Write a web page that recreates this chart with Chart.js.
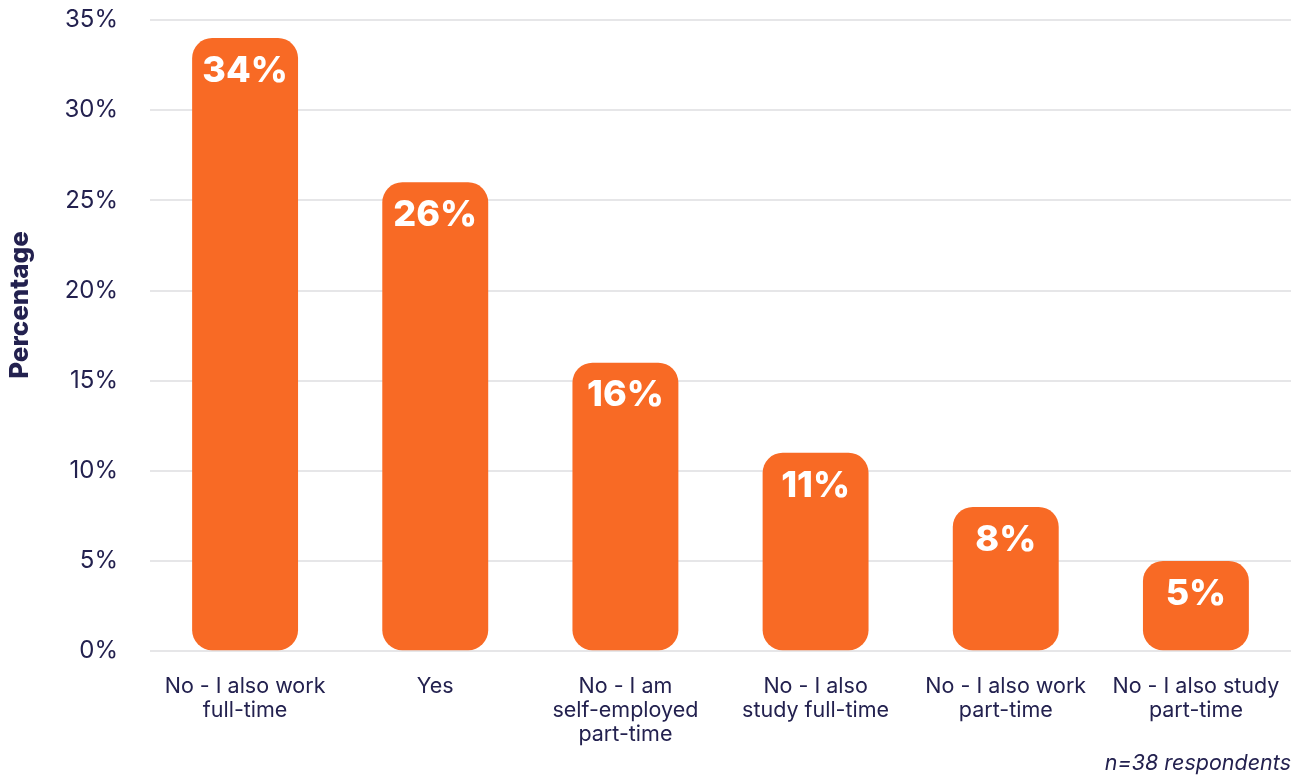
<!DOCTYPE html>
<html>
<head>
<meta charset="utf-8">
<script src="https://cdn.jsdelivr.net/npm/chart.js@4/dist/chart.umd.min.js"></script>
<style>
  html, body { margin: 0; padding: 0; background: #fff; }
  #wrap { width: 1304px; height: 776px; }
</style>
</head>
<body>
<div id="wrap"><canvas id="workChart" width="1304" height="776"></canvas></div>
<script>
// categories (multi-line labels) and their percentages
var categories = [
  ["No - I also work", "full-time"],
  ["Yes"],
  ["No - I am", "self-employed", "part-time"],
  ["No - I also", "study full-time"],
  ["No - I also work", "part-time"],
  ["No - I also study", "part-time"]
];
var percentages = [34, 26, 16, 11, 8, 5];
var yTicks = [0, 5, 10, 15, 20, 25, 30, 35];
var yTitle = "Percentage";
var footnote = "n=38 respondents";

var navy = "#23214f";
var orange = "#f86a25";
var fontFamily = "Inter, 'Open Sans', sans-serif";

// white value labels just inside the top of each bar
var barLabels = {
  id: 'barLabels',
  afterDatasetsDraw: function(chart) {
    var ctx = chart.ctx;
    var meta = chart.getDatasetMeta(0);
    ctx.save();
    ctx.fillStyle = "#fff";
    ctx.font = "800 36px " + fontFamily;
    ctx.textAlign = "center";
    ctx.textBaseline = "middle";
    meta.data.forEach(function(bar, i) {
      ctx.fillText(percentages[i] + "%", bar.x, bar.y + 33);
    });
    ctx.restore();
  }
};

// rotated y axis title, sits a bit above the middle of the plot
var axisTitle = {
  id: 'axisTitle',
  afterDraw: function(chart) {
    var ctx = chart.ctx;
    ctx.save();
    ctx.translate(20, 305);
    ctx.rotate(-Math.PI / 2);
    ctx.fillStyle = navy;
    ctx.font = "800 26px " + fontFamily;
    ctx.textAlign = "center";
    ctx.textBaseline = "middle";
    ctx.fillText(yTitle, 0, 0);
    ctx.restore();
  }
};

var ctx = document.getElementById("workChart");
var chart = new Chart(ctx, {
  type: 'bar',
  data: {
    labels: categories,
    datasets: [{
      data: percentages,
      backgroundColor: orange,
      borderRadius: 20,
      borderSkipped: false,
      barPercentage: 0.557,
      categoryPercentage: 1
    }]
  },
  options: {
    responsive: false,
    animation: false,
    layout: { padding: { top: 20, right: 13, left: 0, bottom: 0 } },
    plugins: {
      legend: { display: false },
      tooltip: { enabled: false },
      title: {
        display: true,
        text: footnote,
        position: 'bottom',
        align: 'end',
        color: navy,
        font: { family: fontFamily, size: 21.5, style: 'italic', weight: 'normal' },
        padding: { top: 0, bottom: 0 }
      }
    },
    scales: {
      x: {
        afterFit: function(scale) {
          scale.height = 99;
          scale.paddingLeft = 0;
          scale.paddingRight = 0;
        },
        grid: { display: false, drawTicks: false },
        border: { display: false },
        ticks: {
          color: navy,
          font: { family: fontFamily, size: 21.5, lineHeight: 1.12 },
          padding: 23,
          maxRotation: 0,
          autoSkip: false
        }
      },
      y: {
        min: 0,
        max: 35,
        afterFit: function(scale) {
          scale.width = 150;
          scale.paddingTop = 0;
          scale.paddingBottom = 0;
        },
        afterBuildTicks: function(scale) {
          scale.ticks = yTicks.map(function(v) { return { value: v }; });
        },
        grid: { color: "#e6e6e8", lineWidth: 2, drawTicks: false },
        border: { display: false },
        ticks: {
          color: navy,
          font: { family: fontFamily, size: 24 },
          padding: 32,
          callback: function(v) { return v + "%"; }
        }
      }
    }
  },
  plugins: [barLabels, axisTitle]
});
</script>
</body>
</html>
